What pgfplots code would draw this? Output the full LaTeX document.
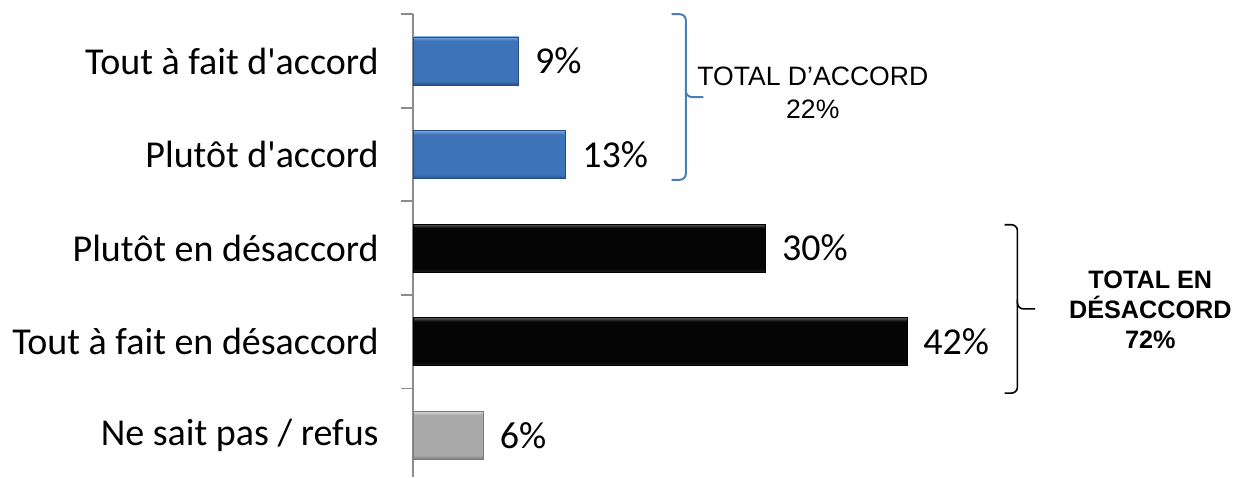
\documentclass[border=0pt]{standalone}
\usepackage{pgfplots}
\pgfplotsset{compat=1.18}
\usepackage{fontspec}
\setmainfont{Carlito}
\newfontfamily\arial{Liberation Sans}
\definecolor{bluemid}{HTML}{3D73B8}
\definecolor{bluetop}{HTML}{78A8E0}
\definecolor{bluebot}{HTML}{254D85}
\definecolor{graymid}{HTML}{A9A9A9}
\definecolor{graytop}{HTML}{D8D8D8}
\definecolor{graybot}{HTML}{7A7A7A}
\definecolor{blkmid}{HTML}{050505}
\definecolor{blktop}{HTML}{5A5A5A}
\definecolor{blkbot}{HTML}{202020}
\definecolor{axisgray}{HTML}{8C8C8C}
\definecolor{bracketblue}{HTML}{4A7EBB}
\pgfdeclareverticalshading{bevelblue}{100bp}{color(0bp)=(bluebot); color(25bp)=(bluebot); color(29bp)=(bluemid); color(71bp)=(bluemid); color(75bp)=(bluetop); color(100bp)=(bluetop)}
\pgfdeclareverticalshading{bevelgray}{100bp}{color(0bp)=(graybot); color(25bp)=(graybot); color(29bp)=(graymid); color(71bp)=(graymid); color(75bp)=(graytop); color(100bp)=(graytop)}
\pgfdeclareverticalshading{bevelblack}{100bp}{color(0bp)=(blkbot); color(25bp)=(blkbot); color(29bp)=(blkmid); color(71bp)=(blkmid); color(75bp)=(blktop); color(100bp)=(blktop)}
\begin{document}
\begin{tikzpicture}
\begin{axis}[
  scale only axis,
  width=415pt, height=231.5pt,
  xmin=0, xmax=70.58,
  ymin=-0.5, ymax=4.449,
  y dir=reverse,
  xbar, bar width=24pt, bar shift=0pt,
  axis y line=left, axis x line=none,
  axis line style={axisgray, line width=0.9pt, -},
  ytick={0,1,2,3,4},
  yticklabels={Tout à fait d\textquotesingle accord, Plutôt d\textquotesingle accord, Plutôt en désaccord, Tout à fait en désaccord, Ne sait pas / refus},
  major tick length=0pt,
  minor ytick={-0.5,0.5,1.5,2.5,3.5},
  minor tick length=6pt,
  tick align=outside,
  minor tick style={axisgray, line width=0.9pt},
  yticklabel style={font=\fontsize{19}{22}\selectfont, anchor=east, inner sep=0pt, xshift=-17pt},
  /pgf/number format/assume math mode=true,
  nodes near coords={\pgfmathprintnumber\pgfplotspointmeta\%},
  nodes near coords style={font=\fontsize{19}{22}\selectfont, anchor=west, inner sep=0pt, xshift=8pt},
  clip=false,
]
\addplot[draw=bluebot, line width=0.4pt, shading=bevelblue] coordinates {(9,0)};
\addplot[draw=bluebot, line width=0.4pt, shading=bevelblue] coordinates {(13,1)};
\addplot[draw=black, line width=0.4pt, shading=bevelblack] coordinates {(30,2)};
\addplot[draw=black, line width=0.4pt, shading=bevelblack] coordinates {(42,3)};
\addplot[draw=graybot, line width=0.4pt, shading=bevelgray] coordinates {(6,4)};
% brackets
\draw[bracketblue, line width=1pt, rounded corners=3pt] (axis cs:22.0,-0.5) -- (axis cs:23.2,-0.5) -- (axis cs:23.2,0.385) -- (axis cs:24.7,0.385);
\draw[bracketblue, line width=1pt, rounded corners=3pt] (axis cs:23.2,0.3) -- (axis cs:23.2,1.27) -- (axis cs:22.0,1.27);
\draw[black, line width=0.8pt, rounded corners=3pt] (axis cs:50.3,1.75) -- (axis cs:51.4,1.75) -- (axis cs:51.4,2.65) -- (axis cs:52.9,2.65);
\draw[black, line width=0.8pt, rounded corners=3pt] (axis cs:51.4,2.55) -- (axis cs:51.4,3.55) -- (axis cs:50.3,3.55);
\node[font=\arial\fontsize{13.3}{16.5}\selectfont, align=center, anchor=center] at (axis cs:34,0.345) {TOTAL D’ACCORD\\22\%};
\node[font=\arial\bfseries\fontsize{12.6}{15}\selectfont, align=center, anchor=center] at (axis cs:62.7,2.66) {TOTAL EN\\DÉSACCORD\\72\%};
\coordinate (BL) at (axis cs:-35.12,4.449);
\coordinate (TR) at (axis cs:70.58,-0.652);
\end{axis}
\pgfresetboundingbox
\path[use as bounding box] (BL) rectangle (TR);
\end{tikzpicture}
\end{document}
